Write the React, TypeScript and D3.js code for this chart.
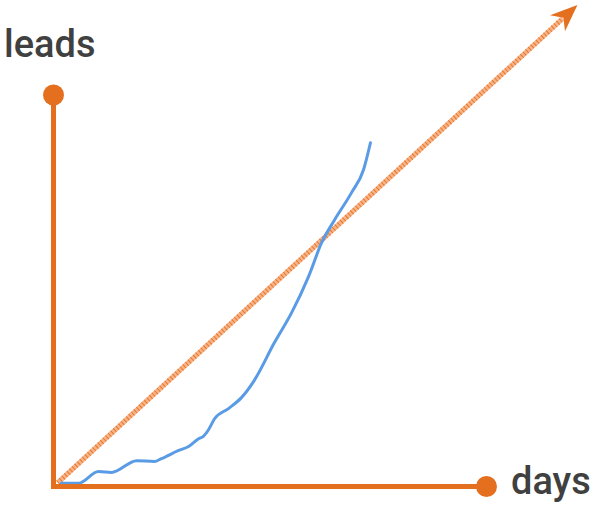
import React from "react";
import * as d3 from "d3";

const days = [1.8, 5.8, 10.4, 13.4, 19.2, 23.3, 24.9, 28.9, 31.2, 33.5, 34.6, 35.8, 37.2, 40.4, 43.4, 46.2, 51.0, 55.0, 58.9, 61.9, 64.9, 68.8, 71.6, 73.2];
const leads = [0.8, 0.8, 3.8, 3.6, 6.6, 6.4, 7.1, 9.2, 10.2, 12.2, 12.8, 14.5, 17.3, 19.9, 22.7, 26.8, 36.7, 44.4, 53.6, 62.2, 68.1, 75.0, 80.9, 87.8];
const trendStart = [1, 1];
const trendEnd = [121, 123];
const axisLabels = ["leads", "days"];

export default function App() {
  const W = 593, H = 505;
  const x = d3.scaleLinear().domain([0, 100]).range([53.5, 486.5]);
  const y = d3.scaleLinear().domain([0, 100]).range([486.5, 95]);
  const pts: [number, number][] = days.map((d, i) => [x(d), y(leads[i])]);
  const line = d3.line().curve(d3.curveMonotoneX)(pts) || "";

  const x1 = x(trendStart[0]), y1 = y(trendStart[1]);
  const x2 = x(trendEnd[0]), y2 = y(trendEnd[1]);
  const ang = Math.atan2(y2 - y1, x2 - x1);
  const L = 27, Wd = 11, notch = 19;
  const ux = Math.cos(ang), uy = Math.sin(ang);
  const px = -uy, py = ux;
  const bx = x2 - ux * L, by = y2 - uy * L;
  const nx = x2 - ux * notch, ny = y2 - uy * notch;
  const head = `M${x2},${y2}L${bx + px * Wd},${by + py * Wd}L${nx},${ny}L${bx - px * Wd},${by - py * Wd}Z`;
  const lx2 = x2 - ux * 20, ly2 = y2 - uy * 20;

  const orange = "#E46F1F";
  return (
    <div style={{ position: "absolute", left: 0, top: 0 }}>
      <svg width={W} height={H} style={{ display: "block" }}>
        <rect width={W} height={H} fill="#fff" />
        <line x1={x1} y1={y1} x2={lx2} y2={ly2} stroke="#F6B288" strokeWidth={5} />
        <line x1={x1} y1={y1} x2={lx2} y2={ly2} stroke="#E8731F" strokeWidth={5} strokeDasharray="0.9 2.6" />
        <path d={head} fill={orange} />
        <path d={line} fill="none" stroke="#5A9BE6" strokeWidth={3} strokeLinecap="round" />
        <line x1={x(0)} y1={y(0) + 2.5} x2={x(0)} y2={y(100)} stroke={orange} strokeWidth={5} />
        <line x1={x(0) - 2.5} y1={y(0)} x2={x(100)} y2={y(0)} stroke={orange} strokeWidth={5} />
        <circle cx={x(0)} cy={y(100)} r={10.5} fill={orange} />
        <circle cx={x(100)} cy={y(0)} r={10.5} fill={orange} />
        <text x={4} y={57} fontFamily="Roboto, sans-serif" fontWeight={500} fontSize={38} fill="#404040">{axisLabels[0]}</text>
        <text x={511} y={494} fontFamily="Roboto, sans-serif" fontWeight={500} fontSize={38} fill="#404040">{axisLabels[1]}</text>
      </svg>
    </div>
  );
}
